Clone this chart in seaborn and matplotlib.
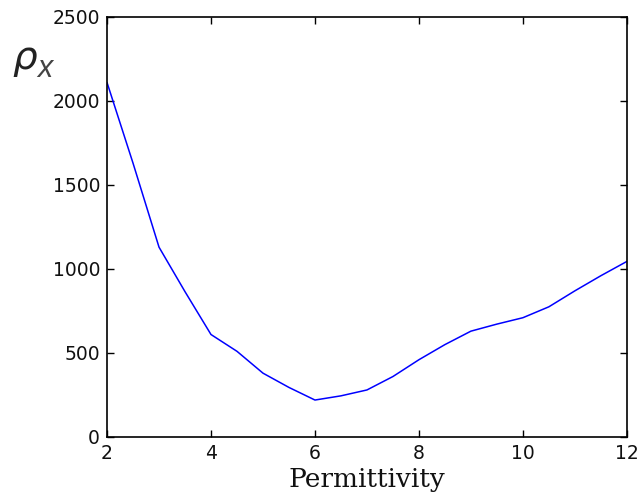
import matplotlib
matplotlib.use("Agg")
import matplotlib.pyplot as plt
import seaborn as sns
import pandas as pd

permittivity = [2, 2.5, 3, 3.5, 4, 4.5, 5, 5.5, 6, 6.5, 7, 7.5, 8, 8.5, 9, 9.5, 10, 10.5, 11, 11.5, 12]
rho_x = [2110, 1630, 1130, 865, 610, 510, 380, 295, 220, 245, 280, 360, 460, 550, 630, 672, 710, 775, 870, 960, 1045]
x_ticks = [2, 4, 6, 8, 10, 12]
y_ticks = [0, 500, 1000, 1500, 2000, 2500]

sns.set_style("white")
df = pd.DataFrame({"Permittivity": permittivity, "rho": rho_x})

fig = plt.figure(figsize=(6.39, 5.0), dpi=100)
ax = fig.add_axes([0.1675, 0.126, 0.8135, 0.84])
sns.lineplot(data=df, x="Permittivity", y="rho", ax=ax, color="#0000ff", linewidth=1.1)

ax.set_xlim(2, 12)
ax.set_ylim(0, 2500)
ax.set_xticks(x_ticks)
ax.set_yticks(y_ticks)
ax.set_xticklabels([str(t) for t in x_ticks], fontsize=13.5, family="DejaVu Sans", color="#111111")
ax.set_yticklabels([str(t) for t in y_ticks], fontsize=13.5, family="DejaVu Sans", color="#111111")
ax.tick_params(direction="in", length=5, width=1, top=True, right=True, bottom=True, left=True, colors="black", pad=5)
for lbl in ax.get_xticklabels() + ax.get_yticklabels():
    lbl.set_color("#111111")
for s in ax.spines.values():
    s.set_visible(True)
    s.set_color("black")
    s.set_linewidth(1.2)
ax.set_ylabel("")
ax.set_xlabel("Permittivity", fontsize=19, family="DejaVu Serif", labelpad=3, color="#111111")
fig.text(12 / 639, 1 - 69 / 500, "\u03c1", fontsize=28, family="DejaVu Sans", style="italic",
         ha="left", va="baseline", color="#222222")
fig.text(37 / 639, 1 - 77 / 500, "x", fontsize=22, family="Liberation Sans", style="italic",
         ha="left", va="baseline", color="#444444")

fig.savefig("out.png", dpi=100, facecolor="white")
